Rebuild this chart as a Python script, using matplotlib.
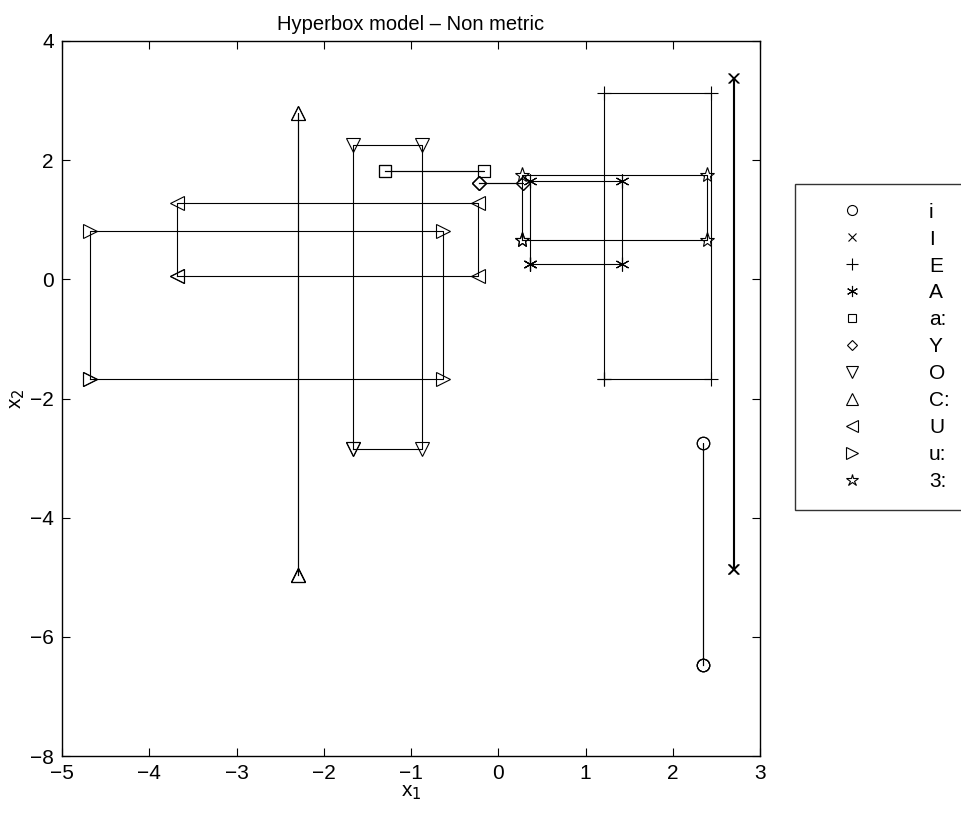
import matplotlib
matplotlib.use("Agg")
import matplotlib.pyplot as plt
from matplotlib.lines import Line2D

plt.rcParams['font.family'] = ['Liberation Sans', 'DejaVu Sans']

# class labels and their hyperbox bounds (x1 range, x2 range)
labels = ['i', 'I', 'E', 'A', 'a:', 'Y', 'O', 'C:', 'U', 'u:', '3:']
x_lo = [2.35, 2.695, 1.21, 0.36, -1.30, -0.22, -1.66, -2.30, -3.68, -4.68, 0.27]
x_hi = [2.35, 2.705, 2.44, 1.42, -0.16, 0.28, -0.87, -2.30, -0.23, -0.63, 2.39]
y_lo = [-6.47, -4.86, -1.68, 0.26, 1.82, 1.61, -2.85, -4.97, 0.05, -1.68, 0.66]
y_hi = [-2.75, 3.38, 3.13, 1.65, 1.82, 1.61, 2.25, 2.79, 1.28, 0.81, 1.75]

markers = ['o', 'x', '+', (6, 2, 0), 's', 'D', 'v', '^', '<', '>', '*']
msizes = [9, 7, 10, 10, 8, 7, 10, 10, 10, 10, 11]

fig = plt.figure(figsize=(9.61, 8.17), dpi=100)
ax = fig.add_axes([62/961, 1-756/817, 698/961, 715/817])

for k in range(len(labels)):
    xs = [x_lo[k], x_hi[k], x_hi[k], x_lo[k], x_lo[k]]
    ys = [y_lo[k], y_lo[k], y_hi[k], y_hi[k], y_lo[k]]
    ax.plot(xs, ys, color='black', lw=0.8, marker=markers[k], ms=msizes[k],
            mfc='none', mec='black', mew=0.8)

ax.set_xlim(-5, 3)
ax.set_ylim(-8, 4)
ax.set_xticks(range(-5, 4))
ax.set_yticks(range(-8, 5, 2))
ax.tick_params(direction='in', top=True, right=True, length=6, width=0.8,
               labelsize=15, pad=6)
for s in ax.spines.values():
    s.set_linewidth(1.0)
ax.set_xlabel(r'x$_1$', fontsize=15, labelpad=0)
ax.set_ylabel(r'x$_2$', fontsize=15, labelpad=2)
ax.set_title('Hyperbox model \u2013 Non metric', fontsize=14.5, pad=8)

handles = [Line2D([], [], ls='none', marker=markers[k], ms=msizes[k]*0.8,
                  mfc='none', mec='black', mew=0.8) for k in range(len(labels))]
leg = fig.legend(handles, labels, loc='upper left',
                 bbox_to_anchor=(795/961, 1-184/817),
                 bbox_transform=fig.transFigure, borderaxespad=0,
                 fontsize=15, frameon=True, fancybox=False,
                 handlelength=3.65, handletextpad=1.88, labelspacing=0.38,
                 borderpad=0.9)
leg.get_frame().set_edgecolor('black')
leg.get_frame().set_linewidth(1.0)

fig.savefig('out.png', dpi=100)
